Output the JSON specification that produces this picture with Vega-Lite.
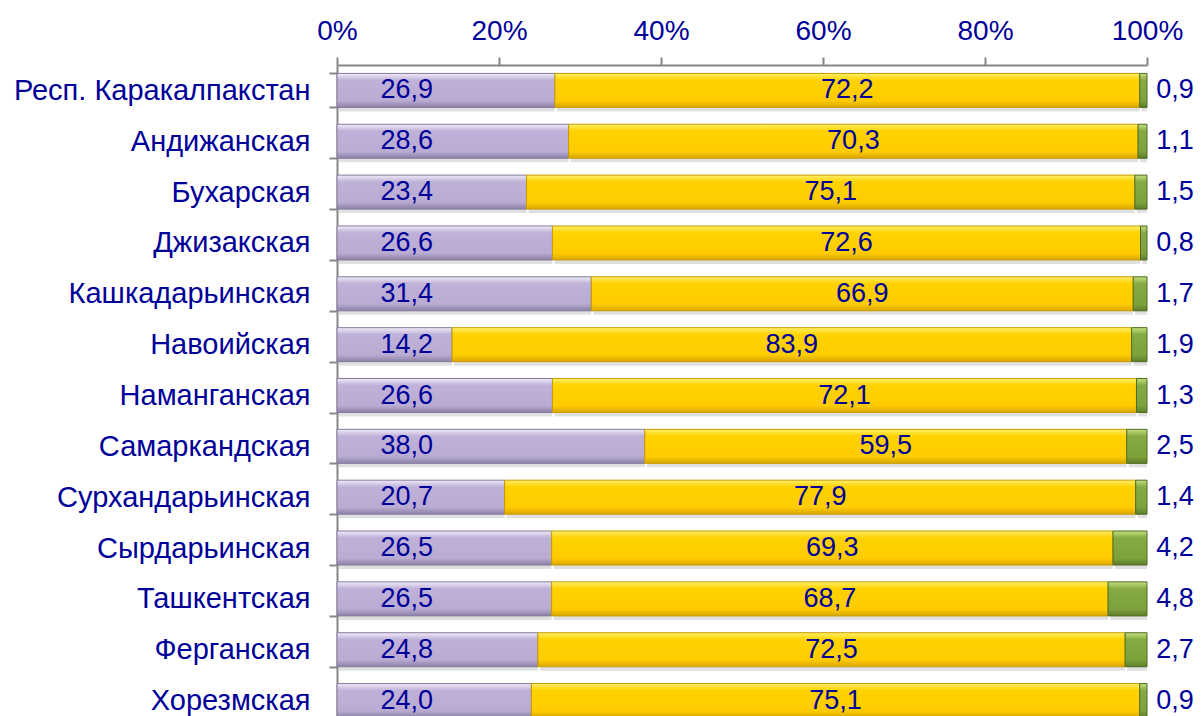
{
  "$schema": "https://vega.github.io/schema/vega-lite/v6.json",
  "autosize": {"type": "none"},
  "padding": {"left": 337, "top": 65, "right": 56, "bottom": 0},
  "width": 810,
  "height": 651,
  "background": "white",
  "config": {
    "view": {"stroke": null},
    "font": "Liberation Sans",
    "text": {"font": "Liberation Sans"}
  },
  "data": {
    "values": [
      {"region": "Респ. Каракалпакстан", "part": "1", "value": 26.9},
      {"region": "Респ. Каракалпакстан", "part": "2", "value": 72.2},
      {"region": "Респ. Каракалпакстан", "part": "3", "value": 0.9},
      {"region": "Андижанская", "part": "1", "value": 28.6},
      {"region": "Андижанская", "part": "2", "value": 70.3},
      {"region": "Андижанская", "part": "3", "value": 1.1},
      {"region": "Бухарская", "part": "1", "value": 23.4},
      {"region": "Бухарская", "part": "2", "value": 75.1},
      {"region": "Бухарская", "part": "3", "value": 1.5},
      {"region": "Джизакская", "part": "1", "value": 26.6},
      {"region": "Джизакская", "part": "2", "value": 72.6},
      {"region": "Джизакская", "part": "3", "value": 0.8},
      {"region": "Кашкадарьинская", "part": "1", "value": 31.4},
      {"region": "Кашкадарьинская", "part": "2", "value": 66.9},
      {"region": "Кашкадарьинская", "part": "3", "value": 1.7},
      {"region": "Навоийская", "part": "1", "value": 14.2},
      {"region": "Навоийская", "part": "2", "value": 83.9},
      {"region": "Навоийская", "part": "3", "value": 1.9},
      {"region": "Наманганская", "part": "1", "value": 26.6},
      {"region": "Наманганская", "part": "2", "value": 72.1},
      {"region": "Наманганская", "part": "3", "value": 1.3},
      {"region": "Самаркандская", "part": "1", "value": 38.0},
      {"region": "Самаркандская", "part": "2", "value": 59.5},
      {"region": "Самаркандская", "part": "3", "value": 2.5},
      {"region": "Сурхандарьинская", "part": "1", "value": 20.7},
      {"region": "Сурхандарьинская", "part": "2", "value": 77.9},
      {"region": "Сурхандарьинская", "part": "3", "value": 1.4},
      {"region": "Сырдарьинская", "part": "1", "value": 26.5},
      {"region": "Сырдарьинская", "part": "2", "value": 69.3},
      {"region": "Сырдарьинская", "part": "3", "value": 4.2},
      {"region": "Ташкентская", "part": "1", "value": 26.5},
      {"region": "Ташкентская", "part": "2", "value": 68.7},
      {"region": "Ташкентская", "part": "3", "value": 4.8},
      {"region": "Ферганская", "part": "1", "value": 24.8},
      {"region": "Ферганская", "part": "2", "value": 72.5},
      {"region": "Ферганская", "part": "3", "value": 2.7},
      {"region": "Хорезмская", "part": "1", "value": 24.0},
      {"region": "Хорезмская", "part": "2", "value": 75.1},
      {"region": "Хорезмская", "part": "3", "value": 0.9}
    ]
  },
  "transform": [
    {"stack": "value", "groupby": ["region"], "sort": [{"field": "part", "order": "ascending"}], "as": ["v0", "v1"]},
    {"calculate": "(datum.v0 + datum.v1) / 2", "as": "mid"},
    {"calculate": "replace(format(datum.value, '.1f'), '.', ',')", "as": "label"}
  ],
  "encoding": {
    "y": {
      "field": "region",
      "type": "nominal",
      "sort": ["Респ. Каракалпакстан", "Андижанская", "Бухарская", "Джизакская", "Кашкадарьинская", "Навоийская", "Наманганская", "Самаркандская", "Сурхандарьинская", "Сырдарьинская", "Ташкентская", "Ферганская", "Хорезмская"],
      "scale": {"range": [0, 661], "paddingInner": 0.331, "paddingOuter": 0.1655},
      "axis": {
        "title": null,
        "tickBand": "extent",
        "tickSize": 8,
        "tickColor": "#868686",
        "tickWidth": 2,
        "domainColor": "#868686",
        "domainWidth": 2,
        "labelFont": "Liberation Sans",
        "labelFontSize": 29,
        "labelColor": "#000099",
        "labelPadding": 19,
        "labelLimit": 400
      }
    }
  },
  "layer": [
    {
      "mark": {"type": "bar", "fill": "#000000", "opacity": 0.12, "yOffset": 4, "xOffset": 2},
      "encoding": {
        "x": {
          "field": "v0",
          "type": "quantitative",
          "scale": {"domain": [0, 100], "nice": false, "zero": true},
          "axis": {
            "orient": "top",
            "title": null,
            "values": [0, 20, 40, 60, 80, 100],
            "labelExpr": "datum.value + '%'",
            "grid": false,
            "tickSize": 8,
            "tickColor": "#868686",
            "tickWidth": 2,
            "domainColor": "#868686",
            "domainWidth": 2,
            "labelFont": "Liberation Sans",
            "labelFontSize": 28,
            "labelColor": "#000099",
            "labelPadding": 12,
            "labelFlush": false,
            "labelOverlap": false
          }
        },
        "x2": {"field": "v1"}
      }
    },
    {
      "transform": [{"filter": "datum.part == '1'"}],
      "mark": {
        "type": "bar",
        "stroke": "#857a9e",
        "strokeWidth": 1,
        "fill": {"gradient": "linear", "x1": 0, "y1": 0, "x2": 0, "y2": 1,
          "stops": [
            {"offset": 0, "color": "#f1ecf8"},
            {"offset": 0.2, "color": "#bfb1d8"},
            {"offset": 0.8, "color": "#b9abd2"},
            {"offset": 1, "color": "#8c80a6"}
          ]}
      },
      "encoding": {
        "x": {"field": "v0", "type": "quantitative"},
        "x2": {"field": "v1"}
      }
    },
    {
      "transform": [{"filter": "datum.part == '2'"}],
      "mark": {
        "type": "bar",
        "stroke": "#c99c00",
        "strokeWidth": 1,
        "fill": {"gradient": "linear", "x1": 0, "y1": 0, "x2": 0, "y2": 1,
          "stops": [
            {"offset": 0, "color": "#fff06a"},
            {"offset": 0.2, "color": "#ffd200"},
            {"offset": 0.8, "color": "#ffcc00"},
            {"offset": 1, "color": "#d8a600"}
          ]}
      },
      "encoding": {
        "x": {"field": "v0", "type": "quantitative"},
        "x2": {"field": "v1"}
      }
    },
    {
      "transform": [{"filter": "datum.part == '3'"}],
      "mark": {
        "type": "bar",
        "stroke": "#4f6b22",
        "strokeWidth": 1,
        "fill": {"gradient": "linear", "x1": 0, "y1": 0, "x2": 0, "y2": 1,
          "stops": [
            {"offset": 0, "color": "#c4e07e"},
            {"offset": 0.2, "color": "#86ab45"},
            {"offset": 0.8, "color": "#7da23c"},
            {"offset": 1, "color": "#5e7d2a"}
          ]}
      },
      "encoding": {
        "x": {"field": "v0", "type": "quantitative"},
        "x2": {"field": "v1"}
      }
    },
    {
      "transform": [{"filter": "datum.part == '1'"}],
      "mark": {"type": "text", "fontSize": 27, "color": "#000099", "align": "center", "baseline": "middle", "font": "Liberation Sans"},
      "encoding": {
        "x": {"datum": 8.6, "type": "quantitative"},
        "text": {"field": "label"}
      }
    },
    {
      "transform": [{"filter": "datum.part == '2'"}],
      "mark": {"type": "text", "fontSize": 27, "color": "#000099", "align": "center", "baseline": "middle", "font": "Liberation Sans"},
      "encoding": {
        "x": {"field": "mid", "type": "quantitative"},
        "text": {"field": "label"}
      }
    },
    {
      "transform": [{"filter": "datum.part == '3'"}],
      "mark": {"type": "text", "fontSize": 27, "color": "#000099", "align": "center", "baseline": "middle", "font": "Liberation Sans"},
      "encoding": {
        "x": {"datum": 103.46, "type": "quantitative"},
        "text": {"field": "label"}
      }
    }
  ]
}
